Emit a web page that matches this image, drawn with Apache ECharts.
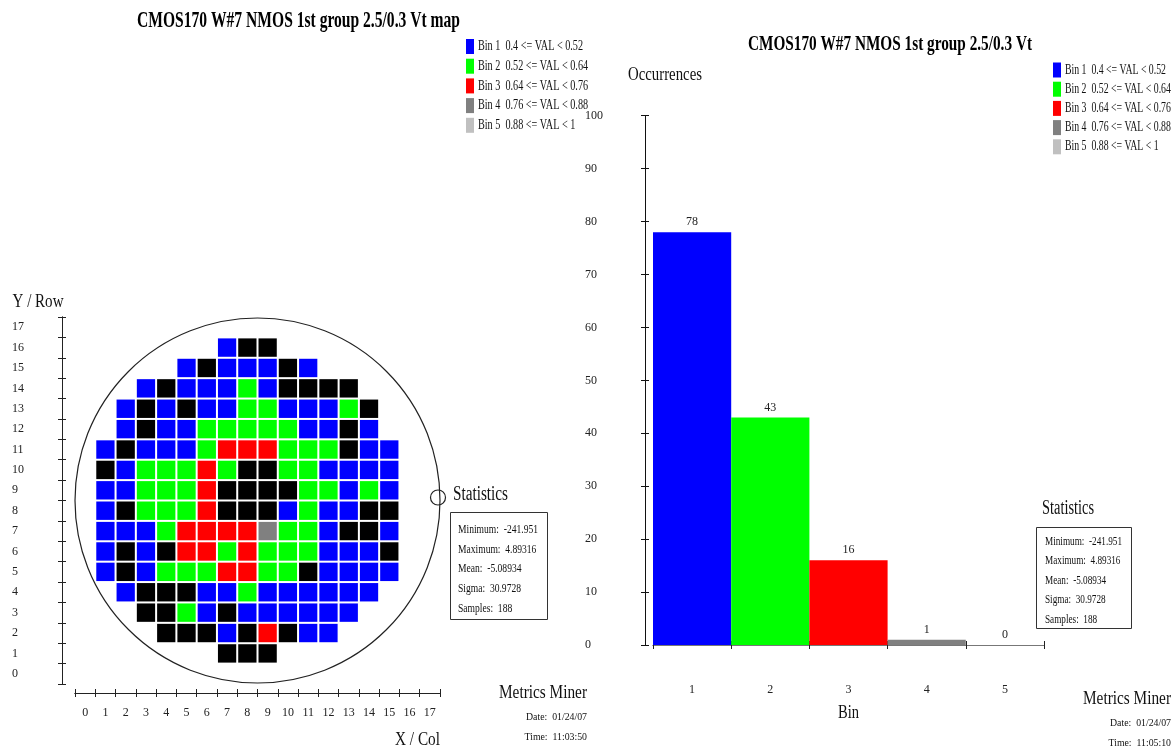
<!DOCTYPE html>
<html>
<head>
<meta charset="utf-8">
<title>CMOS170 W#7 NMOS 1st group 2.5/0.3 Vt</title>
<script src="https://cdn.jsdelivr.net/npm/echarts@6/dist/echarts.min.js"></script>
<style>
  html, body { margin: 0; padding: 0; background: #fff; }
  #chart { width: 1175px; height: 752px; }
</style>
</head>
<body>
<div id="chart"></div>
<script>
// ---- data ----
const colLabels = ['0','1','2','3','4','5','6','7','8','9','10','11','12','13','14','15','16','17'];
const rowLabels = ['0','1','2','3','4','5','6','7','8','9','10','11','12','13','14','15','16','17'];

// bin code per die, one list per wafer row (0 = outside all bins)
const waferRowNumbers = [16, 15, 14, 13, 12, 11, 10, 9, 8, 7, 6, 5, 4, 3, 2, 1];
const waferFirstCol   = [ 7,  5,  3,  2,  2,  1,  1, 1, 1, 1, 1, 1, 2, 3, 4, 7];
const waferBins = [
  [1,0,0],
  [1,0,1,1,1,0,1],
  [1,0,1,1,1,2,1,0,0,0,0],
  [1,0,1,0,1,1,2,2,1,1,1,2,0],
  [1,0,1,1,2,2,2,2,2,1,1,0,1],
  [1,0,1,1,1,2,3,3,3,2,2,2,0,1,1],
  [0,1,2,2,2,3,2,0,0,2,2,1,1,1,1],
  [1,1,2,2,2,3,0,0,0,0,2,2,1,2,1],
  [1,0,2,2,2,3,0,0,0,1,2,1,1,0,0],
  [1,1,1,2,3,3,3,3,4,2,2,1,0,0,1],
  [1,0,1,0,3,3,2,3,2,2,2,1,1,1,0],
  [1,0,1,2,2,2,3,3,2,2,0,1,1,1,1],
  [1,0,0,0,1,1,2,1,1,1,1,1,1],
  [0,0,2,1,0,1,1,1,1,1,1],
  [0,0,0,1,0,3,0,1,1],
  [0,0,0]
];

const binNames  = ['1', '2', '3', '4', '5'];
const binLow    = ['0.4', '0.52', '0.64', '0.76', '0.88'];
const binHigh   = ['0.52', '0.64', '0.76', '0.88', '1'];
const binCounts = [78, 43, 16, 1, 0];
const histTicks = [0, 10, 20, 30, 40, 50, 60, 70, 80, 90, 100];

const statLabels = ['Minimum:', 'Maximum:', 'Mean:', 'Sigma:', 'Samples:'];
const statValues = ['-241.951', '4.89316', '-5.08934', '30.9728', '188'];

const mapTitle  = 'CMOS170 W#7 NMOS 1st group 2.5/0.3 Vt map';
const histTitle = 'CMOS170 W#7 NMOS 1st group 2.5/0.3 Vt';
const footerName = 'Metrics Miner';
const footerDate = '01/24/07';
const mapTime  = '11:03:50';
const histTime = '11:05:10';

// ---- styling ----
const outColor  = '#000000';
const binColors = ['#0000ff', '#00ff00', '#ff0000', '#808080', '#c0c0c0'];
const FONT = '"Liberation Serif", "Times New Roman", serif';

// die list [col, row, code]
const dies = [];
waferBins.forEach(function (bins, r) {
  bins.forEach(function (code, i) {
    dies.push([waferFirstCol[r] + i, waferRowNumbers[r], code]);
  });
});

// narrow serif text: scale horizontally so the string spans a given width
const measureCtx = document.createElement('canvas').getContext('2d');
function textWidth(str, size, weight) {
  measureCtx.font = (weight || 'normal') + ' ' + size + 'px ' + FONT;
  return measureCtx.measureText(str).width;
}
function label(str, x, y, size, scaleX, opts) {
  opts = opts || {};
  return {
    type: 'text', x: x, y: y, scaleX: scaleX, z: 100,
    style: {
      text: str, fontFamily: FONT, fontSize: size,
      fontWeight: opts.weight || 'normal',
      fill: opts.color || '#111',
      align: opts.align || 'left', verticalAlign: 'middle'
    }
  };
}
function fit(str, size, width, weight) {
  return width / textWidth(str, size, weight);
}

const g = [];

// titles
g.push(label(mapTitle, 137, 21, 23, fit(mapTitle, 23, 323, 'bold'), { weight: 'bold', color: '#000' }));
g.push(label(histTitle, 748, 45, 21, fit(histTitle, 21, 284, 'bold'), { weight: 'bold', color: '#000' }));

// legends
function legend(x0, y0, step, width) {
  const first = 'Bin ' + binNames[0] + '  ' + binLow[0] + ' <= VAL < ' + binHigh[0];
  const sx = fit(first, 14, width);
  binNames.forEach(function (b, i) {
    const y = y0 + i * step;
    g.push({ type: 'rect', z: 100, shape: { x: x0, y: y - 7.5, width: 8, height: 15 }, style: { fill: binColors[i] } });
    g.push(label('Bin ' + b + '  ' + binLow[i] + ' <= VAL < ' + binHigh[i], x0 + 12, y, 14, sx));
  });
}
legend(466, 46.5, 19.7, 105);
legend(1053, 70, 19.2, 101);

// statistics boxes
function stats(tx, ty, bx, by, bw, bh, lx, ly, step, width, titleW) {
  g.push(label('Statistics', tx, ty, 20, fit('Statistics', 20, titleW)));
  g.push({ type: 'rect', z: 100, shape: { x: bx, y: by, width: bw, height: bh }, style: { fill: 'none', stroke: '#333', lineWidth: 1 } });
  const sx = fit(statLabels[0] + '  ' + statValues[0], 12.5, width);
  statLabels.forEach(function (s, i) {
    g.push(label(s + '  ' + statValues[i], lx, ly + i * step, 12.5, sx));
  });
}
stats(453, 495, 450.5, 512.5, 97, 107, 458, 530, 19.6, 80, 55);
stats(1042, 509, 1036.5, 527.5, 95, 101, 1045, 541.5, 19.5, 77, 52);

// footers
function footer(right, y, time) {
  g.push(label(footerName, right, y, 18, fit(footerName, 18, 88), { align: 'right' }));
  const d = 'Date:  ' + footerDate, t = 'Time:  ' + time;
  const sx = fit(d, 11, 61);
  g.push(label(d, right, y + 24, 11, sx, { align: 'right' }));
  g.push(label(t, right, y + 44, 11, sx, { align: 'right' }));
}
footer(587, 693, mapTime);
footer(1171, 699, histTime);

// axis names
g.push(label('Y / Row', 12.5, 302, 18, fit('Y / Row', 18, 51)));
g.push(label('X / Col', 395, 740, 18, fit('X / Col', 18, 45)));
g.push(label('Occurrences', 665, 75, 18, fit('Occurrences', 18, 74), { align: 'center' }));
g.push(label('Bin', 848.5, 713, 18, fit('Bin', 18, 21), { align: 'center' }));

// ---- axes ----
const axisFont = { fontFamily: FONT, fontSize: 12, color: '#222' };
function catAxis(grid, data, offset, inside, showLabel, margin, color) {
  return {
    type: 'category', gridIndex: grid, data: data, offset: offset, position: 'bottom',
    axisLine: { show: true, lineStyle: { color: color, width: 1 } },
    axisTick: { show: true, inside: inside, length: 4, interval: 0, lineStyle: { color: '#222' } },
    axisLabel: Object.assign({ show: showLabel, interval: 0, margin: margin }, axisFont),
    splitLine: { show: false }
  };
}

const option = {
  animation: false,
  backgroundColor: '#ffffff',
  grid: [
    { left: 75, top: 317, width: 365, height: 367 },
    { left: 653, top: 115.7, width: 391, height: 529.3 }
  ],
  xAxis: [
    catAxis(0, colLabels, 9, false, true, 14, '#222'),
    catAxis(0, colLabels, 9, true, false, 0, '#222'),
    catAxis(1, binNames, 7, false, true, 32, '#777'),
    catAxis(1, binNames, 7, true, false, 0, '#777')
  ],
  yAxis: [
    {
      type: 'category', gridIndex: 0, data: rowLabels, offset: 13, position: 'left',
      axisLine: { show: true, lineStyle: { color: '#222' } },
      axisTick: { show: true, inside: false, length: 4, interval: 0, lineStyle: { color: '#222' } },
      axisLabel: Object.assign({ interval: 0, margin: 50, align: 'left' }, axisFont)
    },
    {
      type: 'category', gridIndex: 0, data: rowLabels, offset: 13, position: 'left',
      axisLine: { show: true, lineStyle: { color: '#222' } },
      axisTick: { show: true, inside: true, length: 4, interval: 0, lineStyle: { color: '#222' } },
      axisLabel: { show: false }
    },
    {
      type: 'value', gridIndex: 1, min: histTicks[0], max: histTicks[histTicks.length - 1],
      interval: histTicks[1] - histTicks[0], offset: 8, position: 'left',
      axisLine: { show: true, lineStyle: { color: '#111' } },
      axisTick: { show: true, inside: false, length: 4, lineStyle: { color: '#111' } },
      axisLabel: Object.assign({ margin: 60, align: 'left' }, axisFont),
      splitLine: { show: false }
    },
    {
      type: 'value', gridIndex: 1, min: histTicks[0], max: histTicks[histTicks.length - 1],
      interval: histTicks[1] - histTicks[0], offset: 8, position: 'left',
      axisLine: { show: true, lineStyle: { color: '#111' } },
      axisTick: { show: true, inside: true, length: 4, lineStyle: { color: '#111' } },
      axisLabel: { show: false },
      splitLine: { show: false }
    }
  ],
  graphic: { elements: g },
  series: [
    {
      // wafer outline with notch, inscribed in the map grid
      type: 'custom', xAxisIndex: 0, yAxisIndex: 0, silent: true, z: 1,
      data: [[0, 0]],
      renderItem: function (params, api) {
        const cs = params.coordSys;
        const cx = cs.x + cs.width / 2, cy = cs.y + cs.height / 2;
        const r = cs.width / 2;
        return {
          type: 'group',
          children: [
            { type: 'circle', shape: { cx: cx, cy: cy, r: r }, style: { fill: 'none', stroke: '#222', lineWidth: 1.2 } },
            { type: 'circle', shape: { cx: cx + r - 2, cy: cy - 3, r: 7.5 }, style: { fill: 'none', stroke: '#222', lineWidth: 1.2 } }
          ]
        };
      }
    },
    {
      type: 'custom', xAxisIndex: 0, yAxisIndex: 0, silent: true, z: 2,
      data: dies,
      encode: { x: 0, y: 1 },
      renderItem: function (params, api) {
        const c = api.coord([api.value(0), api.value(1)]);
        const s = api.size([1, 1]);
        const code = api.value(2);
        return {
          type: 'rect',
          shape: { x: c[0] - s[0] / 2 + 1, y: c[1] - s[1] / 2 + 1, width: s[0] - 2, height: s[1] - 2 },
          style: { fill: code === 0 ? outColor : binColors[code - 1] }
        };
      }
    },
    {
      type: 'bar', xAxisIndex: 2, yAxisIndex: 2, silent: true,
      barWidth: '100%', barCategoryGap: '0%',
      data: binCounts.map(function (v, i) { return { value: v, itemStyle: { color: binColors[i] } }; }),
      label: { show: true, position: 'top', distance: 4, fontFamily: FONT, fontSize: 12, color: '#222' }
    }
  ]
};

const chart = echarts.init(document.getElementById('chart'), null, { renderer: 'canvas' });
chart.setOption(option);
</script>
</body>
</html>
